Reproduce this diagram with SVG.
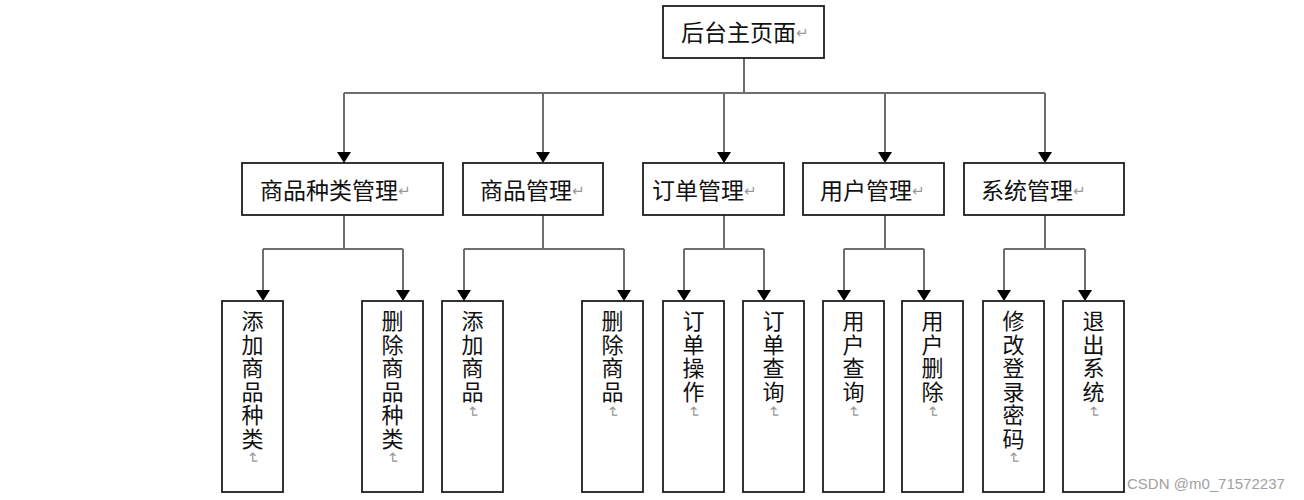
<svg xmlns="http://www.w3.org/2000/svg" width="1304" height="500" viewBox="0 0 1304 500">
<style>
.box{fill:#fff;stroke:#1e1e1e;stroke-width:1.8}
.t{font-family:"Noto Sans CJK SC","Noto Sans",sans-serif;font-size:23px;fill:#111}
.v{font-family:"Noto Sans CJK SC","Noto Sans",sans-serif;font-size:22px;fill:#111;writing-mode:vertical-rl;letter-spacing:1.5px}
.ret{font-family:"DejaVu Sans",sans-serif;font-size:15px;fill:#999}
.rv{font-family:"DejaVu Sans",sans-serif;font-size:15px;fill:#999;text-anchor:middle;dominant-baseline:central}
.c{fill:none;stroke:#6e6e6e;stroke-width:2}
.wm{font-family:"Liberation Sans",Arial,sans-serif;font-size:15px;fill:#a0a0a0}
</style>
<defs>
<marker id="ah" markerUnits="userSpaceOnUse" markerWidth="13" markerHeight="14" refX="0" refY="7" orient="auto">
<path d="M0,0 L11,7 L0,14 z" fill="#000"/>
</marker>
</defs>
<g id="connectors">
<path class="c" d="M744,58 V93 M344,93 H1045"/>
<path class="c" d="M344,93 V152" marker-end="url(#ah)"/>
<path class="c" d="M543,93 V152" marker-end="url(#ah)"/>
<path class="c" d="M724,93 V152" marker-end="url(#ah)"/>
<path class="c" d="M885,93 V152" marker-end="url(#ah)"/>
<path class="c" d="M1045,93 V152" marker-end="url(#ah)"/>
<path class="c" d="M344,215 V249 M263,249 H403 M543,215 V249 M464,249 H624 M724,215 V249 M684,249 H764 M885,215 V249 M844,249 H924 M1045,215 V249 M1004,249 H1085"/>
<path class="c" d="M263,249 V290" marker-end="url(#ah)"/>
<path class="c" d="M403,249 V290" marker-end="url(#ah)"/>
<path class="c" d="M464,249 V290" marker-end="url(#ah)"/>
<path class="c" d="M624,249 V290" marker-end="url(#ah)"/>
<path class="c" d="M684,249 V290" marker-end="url(#ah)"/>
<path class="c" d="M764,249 V290" marker-end="url(#ah)"/>
<path class="c" d="M844,249 V290" marker-end="url(#ah)"/>
<path class="c" d="M924,249 V290" marker-end="url(#ah)"/>
<path class="c" d="M1004,249 V290" marker-end="url(#ah)"/>
<path class="c" d="M1085,249 V290" marker-end="url(#ah)"/>
</g>
<g id="root">
<rect class="box" x="663" y="6" width="161" height="52"/>
<text class="t" x="681" y="41">后台主页面<tspan class="ret" dy="-3">↵</tspan></text>
</g>
<g id="n-category">
<rect class="box" x="242" y="163" width="201" height="52"/>
<text class="t" x="260" y="199">商品种类管理<tspan class="ret" dy="-3">↵</tspan></text>
</g>
<g id="n-goods">
<rect class="box" x="463" y="163" width="140" height="52"/>
<text class="t" x="480" y="199">商品管理<tspan class="ret" dy="-3">↵</tspan></text>
</g>
<g id="n-order">
<rect class="box" x="643" y="163" width="141" height="52"/>
<text class="t" x="652" y="199">订单管理<tspan class="ret" dy="-3">↵</tspan></text>
</g>
<g id="n-user">
<rect class="box" x="803" y="163" width="141" height="52"/>
<text class="t" x="820" y="199">用户管理<tspan class="ret" dy="-3">↵</tspan></text>
</g>
<g id="n-system">
<rect class="box" x="964" y="163" width="160" height="52"/>
<text class="t" x="981" y="199">系统管理<tspan class="ret" dy="-3">↵</tspan></text>
</g>
<g id="l-add-category">
<rect class="box" x="222" y="301" width="61" height="191"/>
<text class="v" x="252.5" y="310">添加商品种类</text>
<text class="rv" x="253" y="458" transform="rotate(90 253 458)">↵</text>
</g>
<g id="l-del-category">
<rect class="box" x="362" y="301" width="61" height="191"/>
<text class="v" x="392.5" y="310">删除商品种类</text>
<text class="rv" x="393" y="458" transform="rotate(90 393 458)">↵</text>
</g>
<g id="l-add-goods">
<rect class="box" x="442" y="301" width="61" height="191"/>
<text class="v" x="472.5" y="310">添加商品</text>
<text class="rv" x="473" y="412" transform="rotate(90 473 412)">↵</text>
</g>
<g id="l-del-goods">
<rect class="box" x="582" y="301" width="61" height="191"/>
<text class="v" x="612.5" y="310">删除商品</text>
<text class="rv" x="613" y="412" transform="rotate(90 613 412)">↵</text>
</g>
<g id="l-order-op">
<rect class="box" x="663" y="301" width="61" height="191"/>
<text class="v" x="693.5" y="310">订单操作</text>
<text class="rv" x="694" y="412" transform="rotate(90 694 412)">↵</text>
</g>
<g id="l-order-query">
<rect class="box" x="743" y="301" width="61" height="191"/>
<text class="v" x="773.5" y="310">订单查询</text>
<text class="rv" x="774" y="412" transform="rotate(90 774 412)">↵</text>
</g>
<g id="l-user-query">
<rect class="box" x="823" y="301" width="61" height="191"/>
<text class="v" x="853.5" y="310">用户查询</text>
<text class="rv" x="854" y="412" transform="rotate(90 854 412)">↵</text>
</g>
<g id="l-user-del">
<rect class="box" x="902" y="301" width="61" height="191"/>
<text class="v" x="932.5" y="310">用户删除</text>
<text class="rv" x="933" y="412" transform="rotate(90 933 412)">↵</text>
</g>
<g id="l-change-pwd">
<rect class="box" x="983" y="301" width="61" height="191"/>
<text class="v" x="1013.5" y="310">修改登录密码</text>
<text class="rv" x="1014" y="458" transform="rotate(90 1014 458)">↵</text>
</g>
<g id="l-exit">
<rect class="box" x="1063" y="301" width="61" height="191"/>
<text class="v" x="1093.5" y="310">退出系统</text>
<text class="rv" x="1094" y="412" transform="rotate(90 1094 412)">↵</text>
</g>
<text class="wm" x="1127" y="489">CSDN @m0_71572237</text>
</svg>
